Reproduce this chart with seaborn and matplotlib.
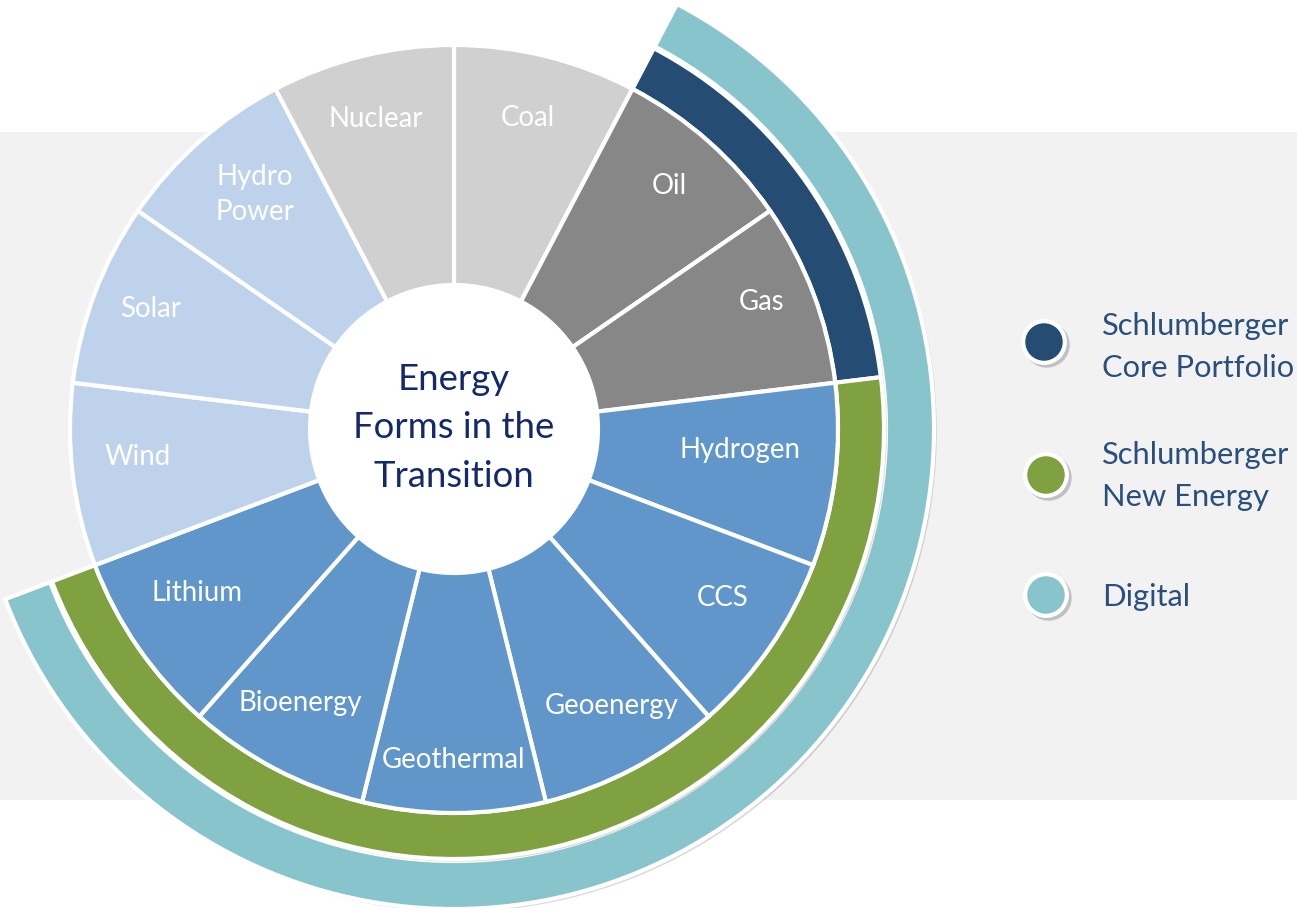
import numpy as np
import matplotlib
matplotlib.use("Agg")
import matplotlib.pyplot as plt
import matplotlib.patheffects as pe
from matplotlib.patches import Circle
from matplotlib.font_manager import FontProperties, findfont
from matplotlib.textpath import TextPath
import seaborn as sns

# ---------------- data ----------------
energy_forms = ["Coal", "Oil", "Gas", "Hydrogen", "CCS", "Geoenergy", "Geothermal",
                "Bioenergy", "Lithium", "Wind", "Solar", "Hydro\nPower", "Nuclear"]
segment_share = [1, 1, 1, 1, 1, 1, 1, 1, 1, 1, 1, 1, 1]
form_family = ["conventional", "hydrocarbon", "hydrocarbon", "new", "new", "new", "new",
               "new", "new", "renewable", "renewable", "renewable", "conventional"]

# outer rings: number of segments covered by each business line (None = not covered)
business_lines = [None, "Schlumberger\nCore Portfolio", "Schlumberger\nNew Energy", None]
business_spans = [1, 2, 6, 4]
digital_lines = [None, "Digital", None]
digital_spans = [1, 8, 4]

legend_labels = ["Schlumberger\nCore Portfolio", "Schlumberger\nNew Energy", "Digital"]
center_title = "Energy\nForms in the\nTransition"

# ---------------- styles ----------------
family_colors = {"conventional": "#D0D0D0", "hydrocarbon": "#878787",
                 "new": "#6096CA", "renewable": "#BED3EB"}
line_colors = {"Schlumberger\nCore Portfolio": "#254D74",
               "Schlumberger\nNew Energy": "#7FA140",
               "Digital": "#88C4CC"}
label_radius = [320, 325, 333, 287, 317, 319, 331, 314, 305, 318, 326, 308, 320]
label_angle_nudge = [0.5, 0, 1.6, 2.7, 2.4, 2.0, 0, -1.6, -2.1, -1.9, -0.8, -1.2, 0.3]

W, H = 1297, 908
CX, CY = 454, 429  # circle centre in pixels

sns.set_theme(style="white")

# pick the narrowest installed Arial-like family
candidates = ["Liberation Sans Narrow", "Roboto", "Lato", "Liberation Sans"]
best, best_ratio = "Liberation Sans", 1e9
for fam in candidates:
    try:
        fp = FontProperties(family=fam)
        findfont(fp, fallback_to_default=False)
    except Exception:
        continue
    wdt = TextPath((0, 0), "Geothermal", size=100, prop=fp).get_extents().width
    cap = TextPath((0, 0), "H", size=100, prop=fp).get_extents().height
    ratio = wdt / cap
    if ratio < best_ratio:
        best, best_ratio = fam, ratio
FONT = best
plt.rcParams["font.family"] = [FONT, "DejaVu Sans"]


def size_for(text, target_px):
    fp = FontProperties(family=FONT)
    w = TextPath((0, 0), text, size=100, prop=fp).get_extents().width / 100.0
    return target_px / (w * 100 / 72)


fs_label = size_for("Geothermal", 140)
fs_title = size_for("Forms in the", 196)
fs_legend = size_for("Core Portfolio", 190)

fig = plt.figure(figsize=(W / 100, H / 100), dpi=100)
ax = fig.add_axes([0, 0, 1, 1])


def px(x, y):
    return x - CX, CY - y


# background band
ax.axhspan(px(0, 800)[1], px(0, 132)[1], color="#F2F2F2", zorder=0, lw=0)
ax.add_patch(Circle((0, 0), 145, fc="white", ec="none", zorder=0.5))

shadow = [pe.SimplePatchShadow(offset=(2, -2), shadow_rgbFace="black", alpha=0.14), pe.Normal()]

# digital ring
wd, _ = ax.pie(digital_spans, radius=480, startangle=90, counterclock=False,
               colors=[line_colors[n] if n else "white" for n in digital_lines],
               wedgeprops=dict(width=48, edgecolor="white", linewidth=3), frame=False)
for w, n in zip(wd, digital_lines):
    if n is None:
        w.set_visible(False)
    else:
        w.set_path_effects(shadow)

# business ring
wb, _ = ax.pie(business_spans, radius=430, startangle=90, counterclock=False,
               colors=[line_colors[n] if n else "white" for n in business_lines],
               wedgeprops=dict(width=46, edgecolor="white", linewidth=3), frame=False)
for w, n in zip(wb, business_lines):
    if n is None:
        w.set_visible(False)
    else:
        w.set_path_effects(shadow)

# main energy wheel
wm, _ = ax.pie(segment_share, radius=384, startangle=90, counterclock=False,
               colors=[family_colors[f] for f in form_family],
               wedgeprops=dict(width=240, edgecolor="white", linewidth=3), frame=False)

for w, name, r, dn in zip(wm, energy_forms, label_radius, label_angle_nudge):
    mid = np.deg2rad((w.theta1 + w.theta2) / 2 + dn)
    ax.text(r * np.cos(mid), r * np.sin(mid), name, ha="center", va="center",
            color="white", fontsize=fs_label, linespacing=1.44, zorder=6)

ax.text(0, 1, center_title, ha="center", va="center", color="#13296B",
        fontsize=fs_title, linespacing=1.56, zorder=6)

# legend
leg_x = [1044, 1046, 1046]
leg_y = [342, 475, 595]
leg_text_y = [347, 476, 597]
for lab, lx, ly, ty in zip(legend_labels, leg_x, leg_y, leg_text_y):
    x, y = px(lx, ly)
    ax.scatter([x], [y], s=900, color=line_colors[lab], edgecolors="white",
               linewidths=3, zorder=7,
               path_effects=[pe.SimpleLineShadow(offset=(2, -2), shadow_color="black", alpha=0.2),
                             pe.Normal()])
    ax.text(px(1102, ty)[0], px(1102, ty)[1], lab, ha="left", va="center", color="#2A4F7A",
            fontsize=fs_legend, linespacing=1.58, zorder=7)

ax.set_xlim(-CX, W - CX)
ax.set_ylim(CY - H, CY)
ax.set_aspect("equal")
ax.axis("off")

fig.savefig("out.png", dpi=100, facecolor="white")
